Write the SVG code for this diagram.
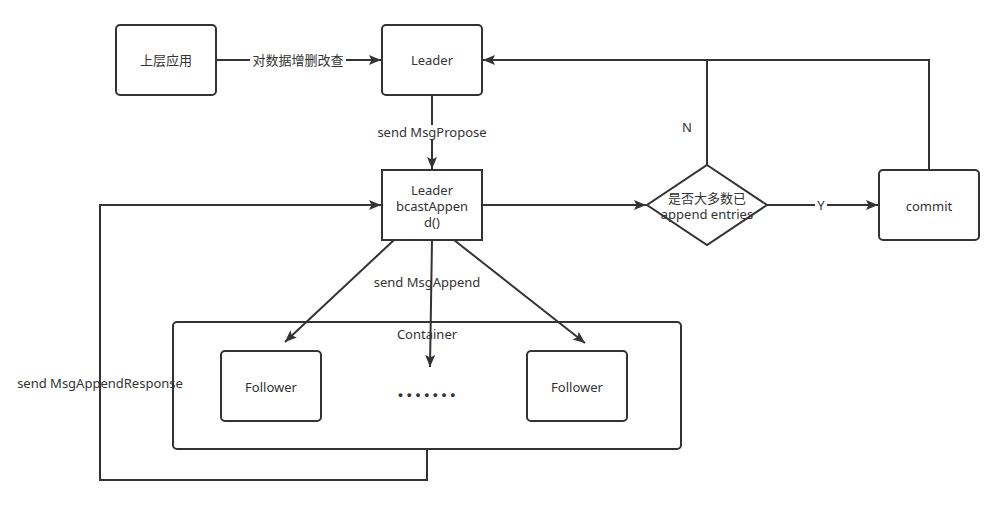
<svg xmlns="http://www.w3.org/2000/svg" width="1004" height="505" viewBox="0 0 1004 505">
<style>
.box{fill:#fff;stroke:#333;stroke-width:2}
.ln{fill:none;stroke:#333;stroke-width:2}
.t{font-family:"Noto Sans","Noto Sans CJK SC",sans-serif;font-size:13px;fill:#333;text-anchor:middle;dominant-baseline:central}
.bg{fill:#fff}
</style>
<defs>
<marker id="ah" markerUnits="userSpaceOnUse" markerWidth="13" markerHeight="11" refX="12" refY="5.5" orient="auto">
<path d="M0,0.5 L12,5.5 L0,10.5 L2.5,5.5 z" fill="#333"/>
</marker>
</defs>
<rect width="1004" height="505" fill="#fff"/>
<g id="connectors">
<line class="ln" x1="216" y1="60" x2="381" y2="60" marker-end="url(#ah)"/>
<line class="ln" x1="432" y1="95" x2="432" y2="169" marker-end="url(#ah)"/>
<line class="ln" x1="482" y1="205" x2="646" y2="205" marker-end="url(#ah)"/>
<line class="ln" x1="767" y1="205" x2="878" y2="205" marker-end="url(#ah)"/>
<polyline class="ln" points="929,170 929,60 483,60" marker-end="url(#ah)"/>
<line class="ln" x1="707" y1="165" x2="707" y2="60"/>
<line class="ln" x1="394" y1="240" x2="285" y2="342" marker-end="url(#ah)"/>
<line class="ln" x1="432" y1="240" x2="430" y2="367" marker-end="url(#ah)"/>
<line class="ln" x1="454" y1="240" x2="585" y2="343" marker-end="url(#ah)"/>
<polyline class="ln" points="427,449 427,480 100,480 100,205 381,205" marker-end="url(#ah)"/>
<rect class="bg" x="250" y="52" width="96" height="16"/>
<text class="t" x="298" y="60">对数据增删改查</text>
<rect class="bg" x="376" y="125" width="112" height="15"/>
<text class="t" x="432" y="132">send MsgPropose</text>
<rect class="bg" x="815" y="198" width="12" height="14"/>
<text class="t" x="821" y="205">Y</text>
<text class="t" x="687" y="127">N</text>
<text class="t" x="427" y="282">send MsgAppend</text>
<text class="t" x="100" y="383">send MsgAppendResponse</text>
</g>
<g id="app"><rect class="box" x="116" y="25" width="100" height="70" rx="4"/><text class="t" x="166" y="60">上层应用</text></g>
<g id="leader"><rect class="box" x="382" y="25" width="100" height="70" rx="4"/><text class="t" x="432" y="60">Leader</text></g>
<g id="bcast"><rect class="box" x="382" y="170" width="100" height="70"/><text class="t" x="432" y="190">Leader</text><text class="t" x="432" y="206">bcastAppen</text><text class="t" x="432" y="222">d()</text></g>
<g id="decision"><polygon class="box" points="707,165 767,205 707,245 647,205"/><text class="t" x="707" y="198">是否大多数已</text><text class="t" x="707" y="214">append entries</text></g>
<g id="commit"><rect class="box" x="879" y="170" width="100" height="70" rx="4"/><text class="t" x="929" y="206">commit</text></g>
<g id="container"><rect class="ln" x="173" y="322" width="508" height="127" rx="4"/><text class="t" x="427" y="334">Container</text>
<g id="follower1"><rect class="box" x="221" y="351" width="100" height="70" rx="4"/><text class="t" x="271" y="387">Follower</text></g>
<g id="dots"><text x="428" y="397" style="font-family:'Liberation Serif',serif;font-size:24px;font-weight:bold;fill:#333;text-anchor:middle;letter-spacing:2.7px">.......</text></g>
<g id="follower2"><rect class="box" x="527" y="351" width="100" height="70" rx="4"/><text class="t" x="577" y="387">Follower</text></g>
</g>
</svg>
